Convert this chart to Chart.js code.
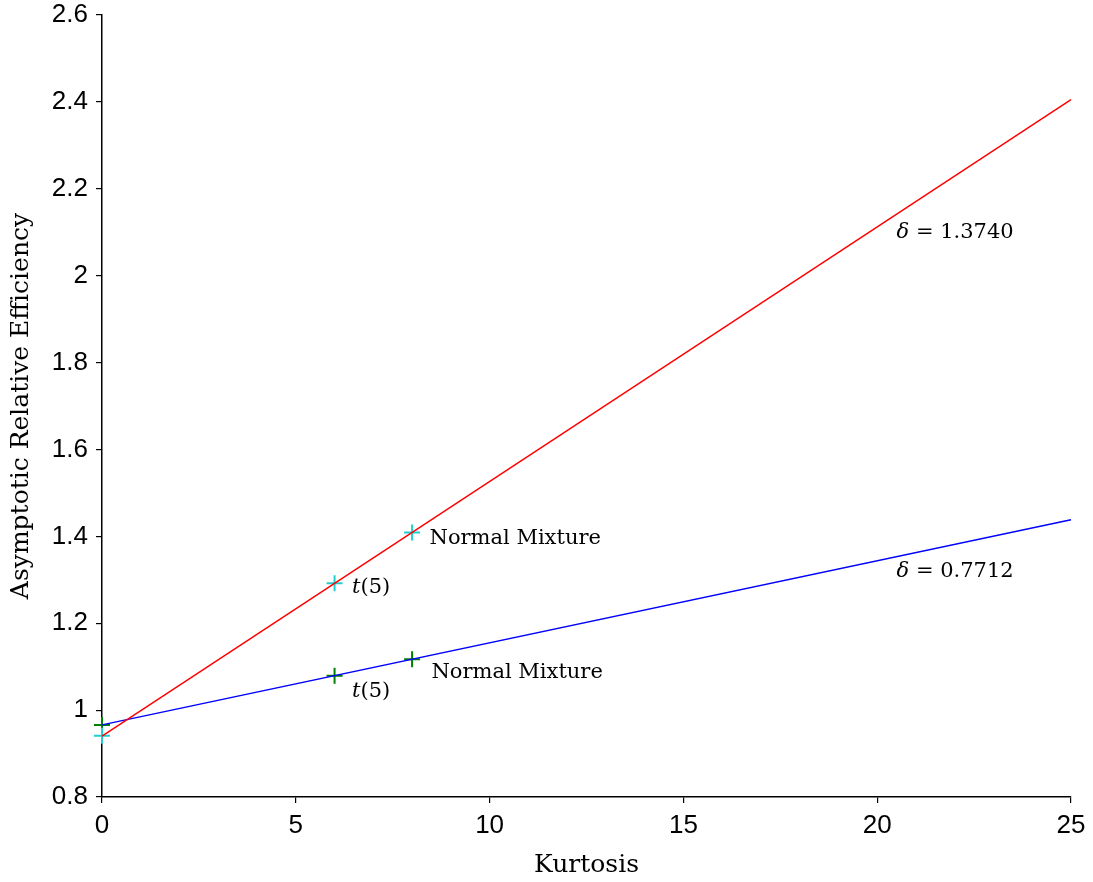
<!DOCTYPE html>
<html>
<head>
<meta charset="utf-8">
<script src="https://cdn.jsdelivr.net/npm/chart.js@4.4.1/dist/chart.umd.min.js"></script>
<style>
  body { margin: 0; background: #fff; }
</style>
</head>
<body>
<canvas id="areChart" width="1093" height="882"></canvas>
<script>
// line endpoints (kurtosis -> ARE)
var kurtRange = [0, 25];
var areHigh = [0.940, 2.405];   // delta = 1.3740
var areLow = [0.966, 1.438];    // delta = 0.7712

// marked distributions
var markKurt = [0, 6, 8];
var markHigh = [0.941, 1.292, 1.409];
var markLow = [0.966, 1.079, 1.117];

var xTicks = [0, 5, 10, 15, 20, 25];
var yTicks = [0.8, 1, 1.2, 1.4, 1.6, 1.8, 2, 2.2, 2.4, 2.6];

// text notes, placed at data coordinates
var notes = [
    { x: 8.45, y: 1.395, text: 'Normal Mixture' },
    { x: 6.45, y: 1.282, text: 't(5)', italicFirst: true },
    { x: 8.5, y: 1.087, text: 'Normal Mixture' },
    { x: 6.45, y: 1.042, text: 't(5)', italicFirst: true },
    { x: 20.5, y: 2.099, text: 'δ = 1.3740', italicFirst: true },
    { x: 20.5, y: 1.320, text: 'δ = 0.7712', italicFirst: true }
];

function pairs(xs, ys) {
    return xs.map(function (x, i) { return { x: x, y: ys[i] }; });
}

var serif = '"DejaVu Serif", serif';
var sans = '"Liberation Sans", Arial, sans-serif';

var notesPlugin = {
    id: 'notes',
    afterDatasetsDraw: function (chart) {
        var ctx = chart.ctx;
        var xs = chart.scales.x, ys = chart.scales.y;
        ctx.save();
        ctx.fillStyle = '#000';
        ctx.textBaseline = 'middle';
        notes.forEach(function (n) {
            var px = xs.getPixelForValue(n.x);
            var py = ys.getPixelForValue(n.y);
            if (n.italicFirst) {
                var first = n.text.charAt(0);
                ctx.font = 'italic 21px ' + serif;
                ctx.fillText(first, px, py);
                var w = ctx.measureText(first).width;
                ctx.font = '21px ' + serif;
                ctx.fillText(n.text.slice(1), px + w, py);
            } else {
                ctx.font = '21px ' + serif;
                ctx.fillText(n.text, px, py);
            }
        });
        ctx.restore();
    }
};

function fmt(v) { return String(Number(v.toFixed(1))); }

var ctx = document.getElementById('areChart').getContext('2d');
var chart = new Chart(ctx, {
    type: 'scatter',
    data: {
        datasets: [
            {
                data: pairs(kurtRange, areHigh),
                showLine: true,
                borderColor: '#ff0000',
                borderWidth: 1.5,
                pointRadius: 0,
                clip: false
            },
            {
                data: pairs(kurtRange, areLow),
                showLine: true,
                borderColor: '#0000ff',
                borderWidth: 1.5,
                pointRadius: 0,
                clip: false
            },
            {
                data: pairs(markKurt, markHigh),
                pointStyle: 'cross',
                pointRadius: 8,
                borderColor: '#1fd0d0',
                pointBorderWidth: 2,
                clip: false
            },
            {
                data: pairs(markKurt, markLow),
                pointStyle: 'cross',
                pointRadius: 8,
                borderColor: '#008000',
                pointBorderWidth: 2,
                clip: false
            }
        ]
    },
    options: {
        responsive: false,
        animation: false,
        layout: { padding: { top: 0, right: 22, left: 0, bottom: 0 } },
        plugins: {
            legend: { display: false },
            tooltip: { enabled: false }
        },
        scales: {
            x: {
                type: 'linear',
                min: 0,
                max: 25,
                afterBuildTicks: function (s) { s.ticks = xTicks.map(function (v) { return { value: v }; }); },
                afterFit: function (s) { s.height = 85; },
                border: { display: true, color: '#000', width: 1.5 },
                grid: { drawOnChartArea: false, color: '#000', tickLength: 6, lineWidth: 1.2 },
                ticks: {
                    color: '#000',
                    padding: 7,
                    maxRotation: 0,
                    font: { family: sans, size: 26 },
                    callback: function (v) { return fmt(v); }
                },
                title: {
                    display: true,
                    text: 'Kurtosis',
                    color: '#000',
                    font: { family: serif, size: 25 },
                    padding: { top: 0, bottom: 2 }
                }
            },
            y: {
                type: 'linear',
                min: 0.8,
                max: 2.6,
                afterBuildTicks: function (s) { s.ticks = yTicks.map(function (v) { return { value: v }; }); },
                afterFit: function (s) {
                    s.width = 102;
                    s.paddingTop = 15;
                    s.paddingBottom = 0;
                },
                border: { display: true, color: '#000', width: 1.5 },
                grid: { drawOnChartArea: false, color: '#000', tickLength: 6, lineWidth: 1.2 },
                ticks: {
                    color: '#000',
                    padding: 8,
                    font: { family: sans, size: 26 },
                    callback: function (v) { return fmt(v); }
                },
                title: {
                    display: true,
                    text: 'Asymptotic Relative Efficiency',
                    color: '#000',
                    font: { family: serif, size: 25 },
                    padding: { top: 6, bottom: 0 }
                }
            }
        }
    },
    plugins: [notesPlugin]
});
</script>
</body>
</html>
